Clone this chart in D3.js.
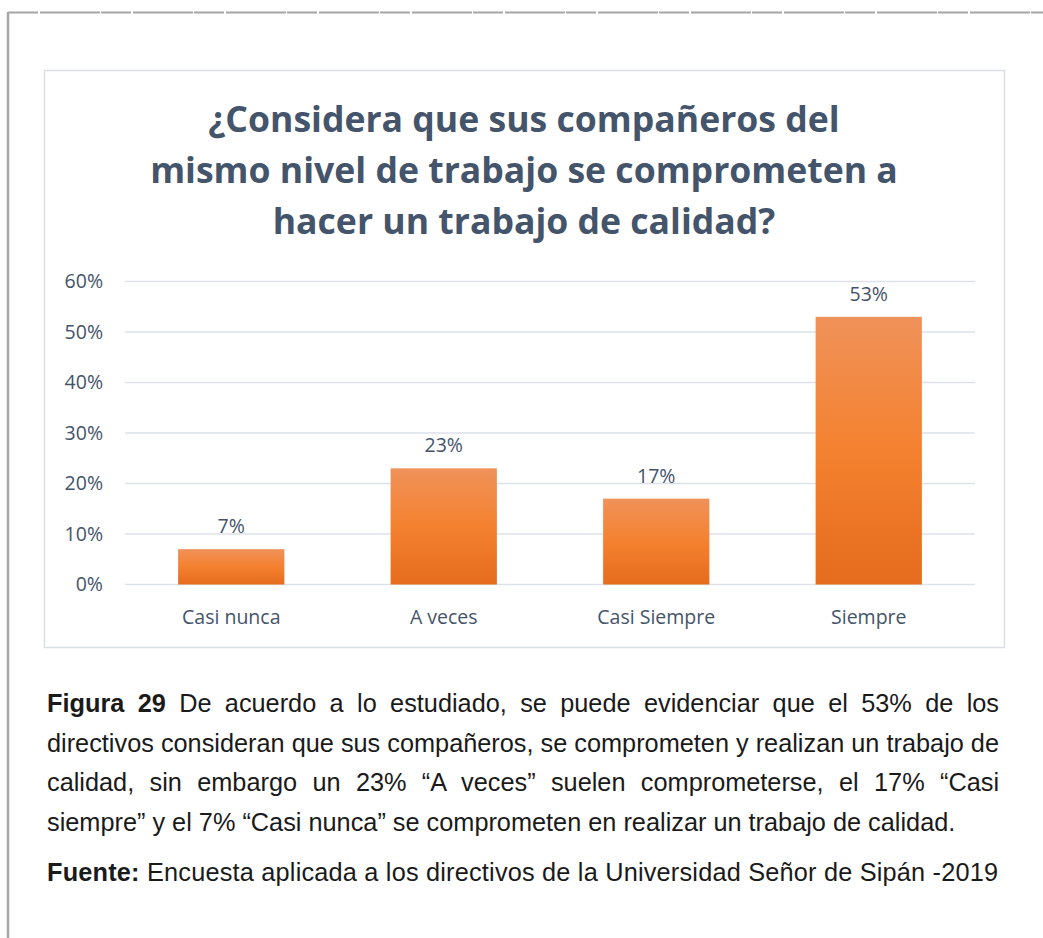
<!DOCTYPE html>
<html>
<head>
<meta charset="utf-8">
<script src="https://cdn.jsdelivr.net/npm/d3@7"></script>
<style>
  body { margin: 0; background: #fff; width: 1043px; height: 938px; position: relative; overflow: hidden; }
  #page { position: absolute; left: 0; top: 0; }
  #caption {
    position: absolute; left: 47px; top: 684px; width: 952px;
    font-family: "Liberation Sans", Arial, sans-serif; font-size: 25.3px; line-height: 39.5px;
    color: #1a1a1a; text-align: justify;
  }
  #caption p { margin: 0; }
  #caption p.src { margin-top: 11px; text-align: left; white-space: nowrap; letter-spacing: 0.2px; }
</style>
</head>
<body>
<svg id="page" width="1043" height="938"></svg>
<div id="caption">
  <p><b>Figura 29</b> De acuerdo a lo estudiado, se puede evidenciar que el 53% de los directivos consideran que sus compañeros, se comprometen y realizan un trabajo de calidad, sin embargo un 23% “A veces” suelen comprometerse, el 17% “Casi siempre” y el 7% “Casi nunca” se comprometen en realizar un trabajo de calidad.</p>
  <p class="src"><b>Fuente:</b> Encuesta aplicada a los directivos de la Universidad Señor de Sipán -2019</p>
</div>
<script>
// datos del gráfico
const categories = ["Casi nunca", "A veces", "Casi Siempre", "Siempre"];
const values = [0.07, 0.23, 0.17, 0.53];
const yTicks = [0, 0.1, 0.2, 0.3, 0.4, 0.5, 0.6];
const titleLines = ["¿Considera que sus compañeros del", "mismo nivel de trabajo se comprometen a", "hacer un trabajo de calidad?"];

const svg = d3.select('#page');

// bordes de la página
svg.append('line').attr('x1', 8).attr('x2', 1043).attr('y1', 12.5).attr('y2', 12.5)
    .attr('stroke', '#a6a6a6').attr('stroke-width', 2).attr('stroke-dasharray', '30 2 60 1');
svg.append('line').attr('x1', 8).attr('x2', 8).attr('y1', 12).attr('y2', 938)
    .attr('stroke', '#a6a6a6').attr('stroke-width', 2.5);

// marco del gráfico
svg.append('rect').attr('x', 44.5).attr('y', 70.5).attr('width', 960).attr('height', 577)
    .attr('fill', '#fff').attr('stroke', '#dadfe6').attr('stroke-width', 1.5);

// título
svg.append('text')
    .attr('text-anchor', 'middle')
    .attr('font-family', '"Open Sans", sans-serif')
    .attr('font-weight', 'bold')
    .attr('font-size', 35.6)
    .attr('fill', '#44546a')
    .selectAll('tspan')
    .data(titleLines)
    .enter()
    .append('tspan')
    .attr('x', 524)
    .attr('y', (d, i) => 132 + i * 51)
    .text(d => d);

const x = d3.scaleBand().domain(categories).range([125, 975]).paddingInner(0.5).paddingOuter(0.25);
const y = d3.scaleLinear().domain([0, 0.6]).range([584.5, 281.5]);

// gradiente de las barras
const grad = svg.append('defs').append('linearGradient')
    .attr('id', 'barGrad').attr('x1', 0).attr('x2', 0).attr('y1', 0).attr('y2', 1);
grad.append('stop').attr('offset', '0%').attr('stop-color', '#f0925a');
grad.append('stop').attr('offset', '50%').attr('stop-color', '#f4812f');
grad.append('stop').attr('offset', '100%').attr('stop-color', '#e56c1d');

// líneas de cuadrícula
svg.append('g')
    .selectAll('line')
    .data(yTicks)
    .enter()
    .append('line')
    .attr('x1', 125).attr('x2', 975)
    .attr('y1', d => y(d)).attr('y2', d => y(d))
    .attr('stroke', '#dde2ea')
    .attr('stroke-width', 1.5);

// eje y
const yAxis = svg.append('g')
    .attr('transform', 'translate(103,0)')
    .call(d3.axisLeft(y).tickValues(yTicks).tickFormat(d3.format('.0%')).tickSize(0).tickPadding(0));
yAxis.select('.domain').remove();
yAxis.selectAll('text')
    .attr('font-family', '"Open Sans", sans-serif')
    .attr('font-size', 19.5)
    .attr('fill', '#44546a');

// eje x
const xAxis = svg.append('g')
    .attr('transform', 'translate(0,584.5)')
    .call(d3.axisBottom(x).tickSize(0).tickPadding(26));
xAxis.select('.domain').remove();
xAxis.selectAll('text')
    .attr('font-family', '"Open Sans", sans-serif')
    .attr('font-size', 19.5)
    .attr('fill', '#44546a');

// barras
svg.append('g')
    .selectAll('rect')
    .data(values)
    .enter()
    .append('rect')
    .attr('x', (d, i) => x(categories[i]))
    .attr('y', d => y(d))
    .attr('width', x.bandwidth())
    .attr('height', d => y(0) - y(d))
    .attr('fill', 'url(#barGrad)');

// etiquetas de datos
svg.append('g')
    .selectAll('text')
    .data(values)
    .enter()
    .append('text')
    .attr('x', (d, i) => x(categories[i]) + x.bandwidth() / 2)
    .attr('y', d => y(d) - 16)
    .attr('text-anchor', 'middle')
    .attr('font-family', '"Open Sans", sans-serif')
    .attr('font-size', 19.5)
    .attr('fill', '#44546a')
    .text(d => d3.format('.0%')(d));
</script>
</body>
</html>
